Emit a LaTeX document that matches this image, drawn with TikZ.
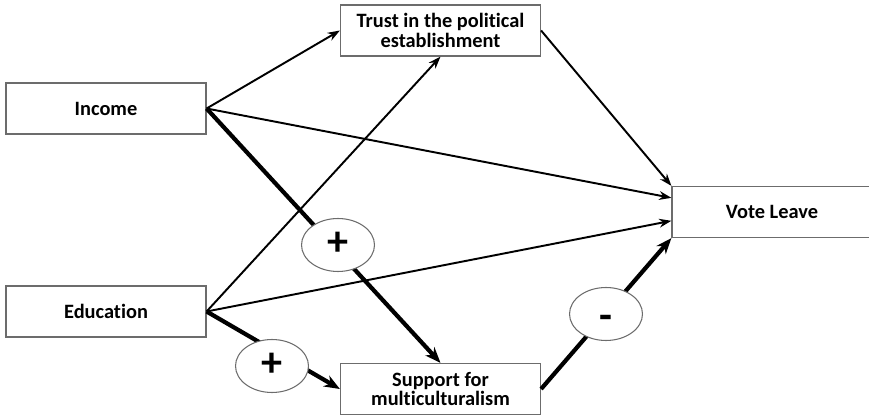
\documentclass[tikz,border=0pt]{standalone}
\usepackage{fontspec}
\setmainfont{Carlito}[Ligatures=NoCommon]
\usetikzlibrary{arrows.meta,shapes.geometric}

\begin{document}
\begin{tikzpicture}[x=0.02cm,y=-0.02cm,
    box/.style={draw=gray!85!black, line width=0.7pt, minimum width=4cm, minimum height=1.02cm,
      inner sep=0pt, align=center, font=\fontsize{11.6}{11.2}\selectfont\bfseries},
    sign/.style={ellipse, draw=gray!85!black, line width=0.6pt, fill=white, minimum width=1.46cm,
      minimum height=1.06cm, inner sep=0pt, text height=11.5pt, text depth=0pt,
      font=\fontsize{24}{24}\selectfont\bfseries},
    link/.style={-{Stealth[length=7pt,width=5pt]}, line width=1.1pt},
    boldlink/.style={-{Stealth[length=9pt,width=7pt]}, line width=2.4pt}]
  \useasboundingbox (0,0) rectangle (869,418);

  % Riquadri
  \node[box] (income) at (106,108.5) {Income};
  \node[box] (edu) at (106,311.5) {Education};
  \node[box] (trust) at (440.5,30.5) {Trust in the political\\establishment};
  \node[box] (supp) at (440.5,389) {Support for\\multiculturalism};
  \node[box] (vote) at (772,212) {Vote Leave};

  % Frecce
  \draw[link] (income.east) -- (trust.west);
  \draw[link] (income.east) -- (vote.172.6);
  \draw[link] (edu.east) -- (trust.south);
  \draw[link] (edu.east) -- (vote.185.7);
  \draw[link] (trust.east) -- (vote.north west);
  \draw[boldlink] (income.east) -- (supp.north);
  \draw[boldlink] (edu.east) -- (supp.west);
  \draw[boldlink] (supp.east) -- (vote.south west);

  % Segni
  \node[sign] (plusA) at (338,245) {+};
  \node[sign] (plusB) at (272,366) {+};
  \node[sign, text height=18pt] (minus) at (606,314) {-};
\end{tikzpicture}
\end{document}
